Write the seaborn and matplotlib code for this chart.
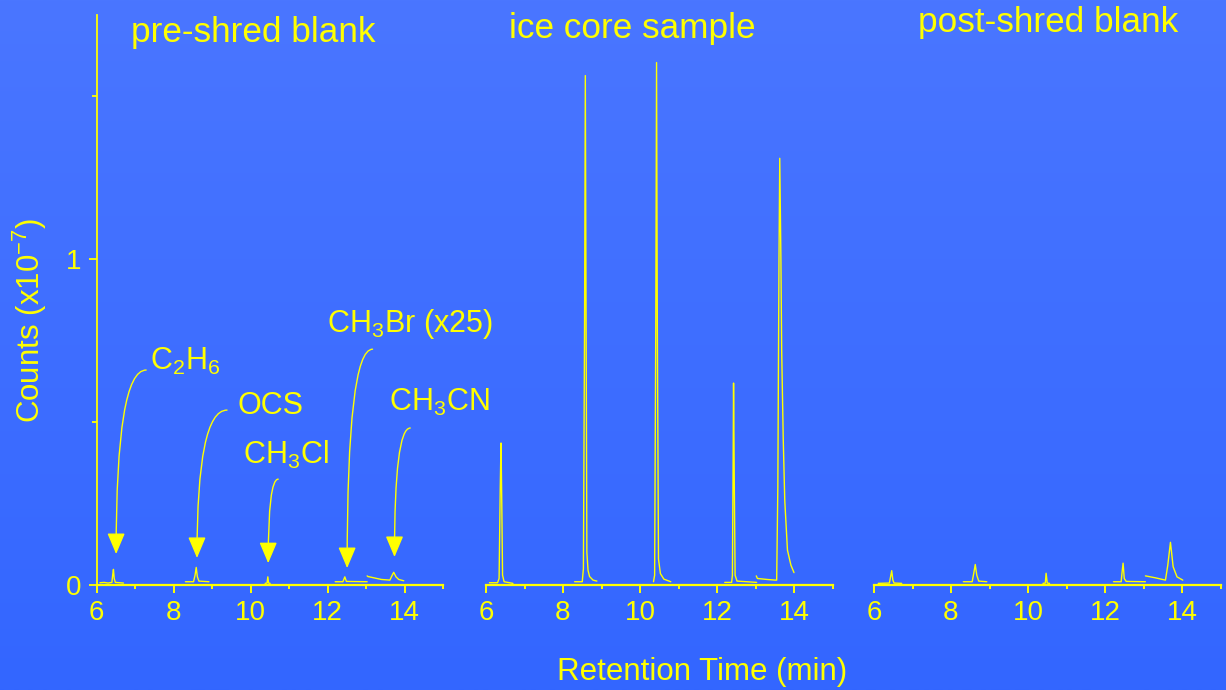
import matplotlib
matplotlib.use("Agg")
import matplotlib.pyplot as plt
import matplotlib.ticker as mticker
import numpy as np
import pandas as pd
import seaborn as sns

YELLOW = "#ffff00"

#%% data: retention time (min) and counts (x1e-7) read off each trace segment
# pre-shred blank
pre_c2h6_t = [6.09, 6.20, 6.30, 6.40, 6.42, 6.44, 6.46, 6.49, 6.70]
pre_c2h6_y = [0.007, 0.008, 0.006, 0.008, 0.030, 0.048, 0.020, 0.008, 0.006]
pre_ocs_t = [8.31, 8.52, 8.56, 8.59, 8.62, 8.66, 8.92]
pre_ocs_y = [0.010, 0.010, 0.030, 0.054, 0.025, 0.012, 0.010]
pre_ch3cl_t = [10.38, 10.43, 10.45, 10.47, 10.51]
pre_ch3cl_y = [0.005, 0.006, 0.025, 0.006, 0.005]
pre_ch3br_t = [12.20, 12.40, 12.45, 12.49, 13.03]
pre_ch3br_y = [0.010, 0.010, 0.025, 0.011, 0.010]
pre_ch3cn_t = [13.03, 13.05, 13.40, 13.62, 13.68, 13.72, 13.78, 13.85, 13.98]
pre_ch3cn_y = [0.028, 0.026, 0.017, 0.015, 0.030, 0.039, 0.025, 0.017, 0.013]

# ice core sample
ice_c2h6_t = [6.09, 6.30, 6.34, 6.37, 6.39, 6.41, 6.43, 6.47, 6.70]
ice_c2h6_y = [0.007, 0.007, 0.020, 0.300, 0.436, 0.250, 0.030, 0.010, 0.005]
ice_ocs_t = [8.30, 8.50, 8.53, 8.56, 8.58, 8.60, 8.62, 8.65, 8.69, 8.78, 8.88]
ice_ocs_y = [0.010, 0.010, 0.050, 0.800, 1.564, 0.800, 0.100, 0.045, 0.026, 0.015, 0.012]
ice_ch3cl_t = [10.35, 10.38, 10.41, 10.43, 10.45, 10.48, 10.53, 10.62, 10.80]
ice_ch3cl_y = [0.010, 0.030, 0.800, 1.604, 0.800, 0.080, 0.035, 0.018, 0.010]
ice_ch3br_t = [12.20, 12.38, 12.40, 12.42, 12.43, 12.45, 12.47, 12.52, 13.03]
ice_ch3br_y = [0.008, 0.008, 0.030, 0.400, 0.620, 0.300, 0.030, 0.012, 0.008]
ice_ch3cn_t = [13.02, 13.05, 13.30, 13.51, 13.55, 13.58, 13.61, 13.63, 13.66, 13.68,
               13.72, 13.76, 13.83, 13.92, 14.00]
ice_ch3cn_y = [0.028, 0.020, 0.017, 0.015, 0.015, 0.300, 1.000, 1.310, 1.000, 0.720,
               0.450, 0.260, 0.107, 0.061, 0.038]

# post-shred blank
post_c2h6_t = [6.11, 6.40, 6.43, 6.46, 6.49, 6.52, 6.72]
post_c2h6_y = [0.005, 0.006, 0.025, 0.044, 0.015, 0.006, 0.005]
post_ocs_t = [8.32, 8.55, 8.59, 8.63, 8.67, 8.72, 8.93]
post_ocs_y = [0.010, 0.010, 0.035, 0.063, 0.030, 0.012, 0.010]
post_ch3cl_t = [10.39, 10.45, 10.47, 10.50, 10.56]
post_ch3cl_y = [0.005, 0.006, 0.036, 0.006, 0.005]
post_ch3br_t = [12.22, 12.42, 12.44, 12.47, 12.50, 12.55, 13.05]
post_ch3br_y = [0.010, 0.010, 0.035, 0.067, 0.020, 0.011, 0.010]
post_ch3cn_t = [13.05, 13.31, 13.57, 13.63, 13.70, 13.77, 13.87, 14.02]
post_ch3cn_y = [0.028, 0.022, 0.015, 0.060, 0.131, 0.056, 0.025, 0.015]

panel_titles = ["pre-shred blank", "ice core sample", "post-shred blank"]
compound_labels = [r"C$_2$H$_6$", "OCS", r"CH$_3$Cl", r"CH$_3$Br (x25)", r"CH$_3$CN"]
x_ticks = [6, 8, 10, 12, 14]
y_ticks = [0, 1]

#%% layout (not data): label anchor, arrow start, arrow tip in pre-shred data coords
label_xy = [(7.39, 0.660), (9.65, 0.525), (9.81, 0.371), (11.99, 0.776), (13.61, 0.534)]
arrow_from = [(7.29, 0.660), (9.39, 0.537), (10.72, 0.325), (13.17, 0.724), (14.15, 0.482)]
arrow_to = [(6.51, 0.095), (8.61, 0.083), (10.46, 0.067), (12.51, 0.052), (13.74, 0.086)]


def make_frame(segments):
    frames = []
    for k, (t, c) in enumerate(segments):
        frames.append(pd.DataFrame({"time": t, "counts": c, "segment": k}))
    return pd.concat(frames, ignore_index=True)


pre_df = make_frame([(pre_c2h6_t, pre_c2h6_y), (pre_ocs_t, pre_ocs_y),
                     (pre_ch3cl_t, pre_ch3cl_y), (pre_ch3br_t, pre_ch3br_y),
                     (pre_ch3cn_t, pre_ch3cn_y)])
ice_df = make_frame([(ice_c2h6_t, ice_c2h6_y), (ice_ocs_t, ice_ocs_y),
                     (ice_ch3cl_t, ice_ch3cl_y), (ice_ch3br_t, ice_ch3br_y),
                     (ice_ch3cn_t, ice_ch3cn_y)])
post_df = make_frame([(post_c2h6_t, post_c2h6_y), (post_ocs_t, post_ocs_y),
                      (post_ch3cl_t, post_ch3cl_y), (post_ch3br_t, post_ch3br_y),
                      (post_ch3cn_t, post_ch3cn_y)])

#%% style
sns.set_theme(style="ticks")
plt.rcParams["font.family"] = ["Liberation Sans", "DejaVu Sans"]
plt.rcParams["mathtext.default"] = "regular"

fig = plt.figure(figsize=(12.26, 6.9), dpi=100)

# blue gradient background
bg = fig.add_axes([0, 0, 1, 1], zorder=-10)
top = np.array([74, 118, 255]) / 255
bot = np.array([51, 102, 255]) / 255
frac = np.linspace(0, 1, 256)[:, None]
grad = top[None, :] * (1 - frac) + bot[None, :] * frac
bg.imshow(grad[:, None, :], aspect="auto", extent=[0, 1, 0, 1])
bg.axis("off")

W, H = 1226, 690
left_px = [96.5, 486, 874]
width_px = 346.5
ax_bottom = 1 - 585 / H
ax_height = 570 / H

axes = []
for i, df in enumerate([pre_df, ice_df, post_df]):
    ax = fig.add_axes([left_px[i] / W, ax_bottom, width_px / W, ax_height])
    ax.set_facecolor("none")
    sns.lineplot(data=df, x="time", y="counts", units="segment", estimator=None,
                 sort=False, color=YELLOW, lw=1.0, ax=ax, legend=False)
    ax.set_xlim(6, 15)
    ax.set_ylim(0, 1.75)
    ax.set_xlabel("")
    ax.set_ylabel("")
    ax.xaxis.set_major_locator(mticker.FixedLocator(x_ticks))
    ax.xaxis.set_minor_locator(mticker.MultipleLocator(1))
    for s in ["top", "right"]:
        ax.spines[s].set_visible(False)
    ax.spines["bottom"].set_color(YELLOW)
    ax.spines["bottom"].set_linewidth(1.6)
    ax.spines["left"].set_color(YELLOW)
    ax.spines["left"].set_linewidth(1.3)
    ax.tick_params(axis="x", which="major", length=6, width=1.4, colors=YELLOW,
                   labelsize=20, pad=5)
    ax.tick_params(axis="x", which="minor", length=3, width=1.4, colors=YELLOW)
    if i == 0:
        ax.yaxis.set_major_locator(mticker.FixedLocator(y_ticks))
        ax.yaxis.set_minor_locator(mticker.FixedLocator([0.5, 1.5]))
        ax.tick_params(axis="y", which="major", length=6, width=1.3, colors=YELLOW,
                       labelsize=20, pad=5)
        ax.tick_params(axis="y", which="minor", length=3.5, width=1.3, colors=YELLOW)
    else:
        ax.spines["left"].set_visible(False)
        ax.set_yticks([])
    axes.append(ax)

# panel titles
title_pos = [(0.0996, 0.953), (0.0675, 0.959), (0.127, 0.970)]
for ax, title, (tx, ty) in zip(axes, panel_titles, title_pos):
    ax.text(tx, ty, title, transform=ax.transAxes, color=YELLOW, fontsize=25.3,
            ha="left", va="baseline")

# compound annotations on the pre-shred panel
ax0 = axes[0]
for lab, lxy, a0, a1 in zip(compound_labels, label_xy, arrow_from, arrow_to):
    ax0.text(lxy[0], lxy[1], lab, color=YELLOW, fontsize=22, ha="left", va="baseline")
    ax0.annotate("", xy=a1, xytext=a0,
                 arrowprops=dict(arrowstyle="-|>,head_length=1.3,head_width=0.55",
                                 connectionstyle="angle3,angleA=0,angleB=90",
                                 color=YELLOW, lw=1.0, shrinkA=0, shrinkB=0,
                                 mutation_scale=10))

fig.text(30 / W, 1 - 320 / H, r"Counts (x10$^{-7}$)", rotation=90, color=YELLOW,
         fontsize=22.5, ha="center", va="center")
fig.text(702 / W, 1 - 672 / H, "Retention Time (min)", color=YELLOW, fontsize=22.5,
         ha="center", va="center")

fig.savefig("out.png", dpi=100)
